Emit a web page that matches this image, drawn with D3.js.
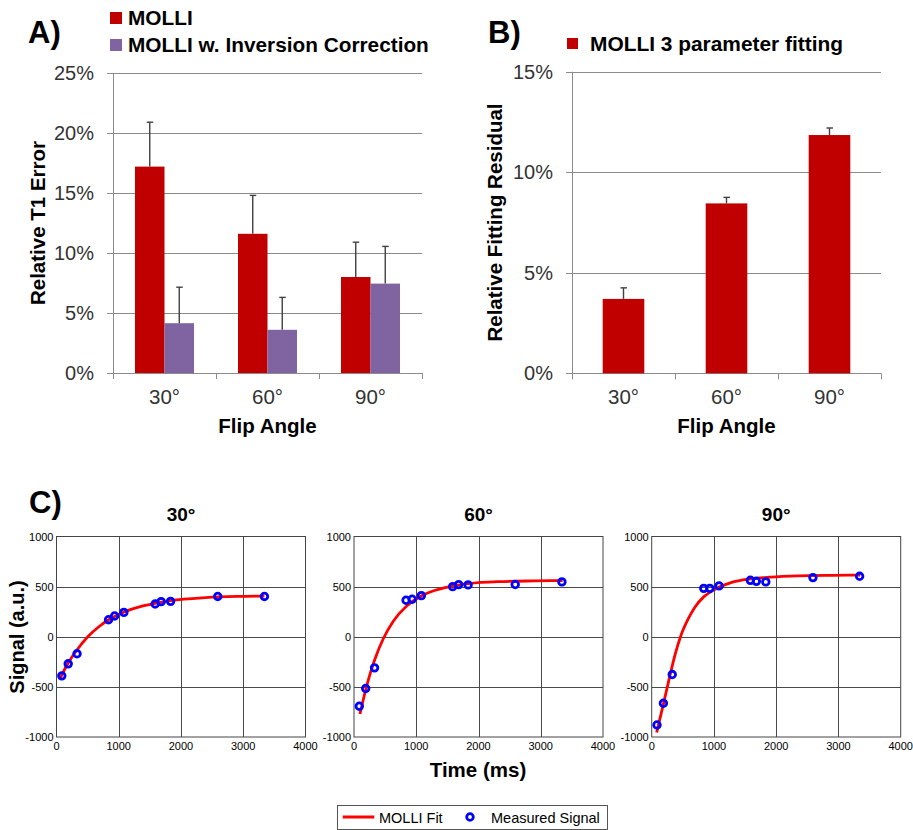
<!DOCTYPE html>
<meta charset="utf-8">
<script src="https://d3js.org/d3.v7.min.js"></script>
<style>
    body { margin: 0; background: white; }
    text { font-family: "Liberation Sans", Arial, sans-serif; }
    .grid { stroke: #8c8c8c; stroke-width: 1; }
    .mgrid { stroke: #4a4a4a; stroke-width: 1; }
</style>
<body>
<div id="graphDiv"></div>
<script>
    // panel A / B data (percent)
    var angles = ["30°", "60°", "90°"];
    var seriesA = ["MOLLI", "MOLLI w. Inversion Correction"];
    var molliT1Err = [17.2, 11.6, 8.0];
    var molliT1Sd = [3.7, 3.2, 2.9];
    var corrT1Err = [4.15, 3.6, 7.45];
    var corrT1Sd = [3.0, 2.7, 3.1];
    var fitResidual = [3.7, 8.45, 11.85];
    var fitResidualSd = [0.55, 0.3, 0.35];
    var ticksA = [0, 5, 10, 15, 20, 25];
    var ticksB = [0, 5, 10, 15];

    // panel C data: measured signal and fitted curve
    var times = [85, 188, 330, 836, 934, 1082, 1585, 1681, 1833, 2590, 3340];
    var signal30 = [-390, -270, -170, 170, 207, 243, 327, 350, 353, 402, 402];
    var signal60 = [-693, -516, -310, 364, 374, 410, 500, 520, 517, 521, 547];
    var signal90 = [-880, -663, -377, 483, 483, 507, 563, 553, 547, 590, 603];

    var fit30T = [60, 180, 325, 510, 670, 825, 1078, 1374, 1578, 1835, 2395, 2900, 3340];
    var fit30S = [-412, -270, -135, 5, 95, 165, 245, 305, 332, 360, 390, 402, 406];
    var fit60T = [96, 193, 268, 337, 470, 631, 846, 1087, 1327, 1594, 1841, 2343, 2900, 3350];
    var fit60S = [-770, -516, -350, -222, -20, 155, 307, 410, 468, 508, 530, 550, 557, 560];
    var fit90T = [80, 192, 288, 370, 474, 588, 688, 840, 992, 1274, 1584, 1900, 2341, 2900, 3350];
    var fit90S = [-955, -660, -400, -190, 20, 180, 290, 400, 465, 540, 577, 595, 608, 613, 615];

    var timeTicks = [0, 1000, 2000, 3000, 4000];
    var signalTicks = [-1000, -500, 0, 500, 1000];

    var width = 913, height = 830;
    var red = "#c00000", purple = "#8064a2";

    var svg = d3.select("#graphDiv").append("svg")
        .attr("width", width)
        .attr("height", height)
        .style("display", "block");

    function panelLetter(txt, x, y) {
        svg.append("text").attr("x", x).attr("y", y)
            .attr("font-size", 31).attr("font-weight", "bold")
            .attr("fill", "#000").text(txt);
    }

    function barAxes(x, y, ticks, yLabel, labelX) {
        var x0 = x.range()[0], x1 = x.range()[1];
        var g = svg.append("g");
        g.selectAll(".grid").data(ticks).join("line")
            .attr("class", "grid")
            .attr("x1", x0 - 6).attr("x2", x1)
            .attr("y1", d => Math.round(y(d)) + 0.5).attr("y2", d => Math.round(y(d)) + 0.5);
        g.append("line").attr("class", "grid")
            .attr("x1", x0 + 0.5).attr("x2", x0 + 0.5)
            .attr("y1", y.range()[1]).attr("y2", y.range()[0] + 6);
        // category boundary ticks
        var bounds = angles.map(a => x(a) + x.bandwidth());
        g.selectAll(".bt").data(bounds).join("line")
            .attr("class", "grid")
            .attr("x1", d => Math.round(d) + 0.5).attr("x2", d => Math.round(d) + 0.5)
            .attr("y1", y.range()[0]).attr("y2", y.range()[0] + 6);
        g.selectAll(".yl").data(ticks).join("text")
            .attr("x", x0 - 19).attr("y", d => y(d) + 7)
            .attr("text-anchor", "end").attr("font-size", 20)
            .attr("fill", "#333").text(d => d + "%");
        g.selectAll(".xl").data(angles).join("text")
            .attr("x", d => x(d) + x.bandwidth() / 2).attr("y", 404)
            .attr("text-anchor", "middle").attr("font-size", 20.5)
            .attr("fill", "#333").text(d => d);
        g.append("text")
            .attr("x", (x0 + x1) / 2).attr("y", 433)
            .attr("text-anchor", "middle").attr("font-size", 20.5)
            .attr("font-weight", "bold").text("Flip Angle");
        g.append("text")
            .attr("transform", "translate(" + labelX + "," + (y.range()[0] + y.range()[1]) / 2 + ") rotate(-90)")
            .attr("text-anchor", "middle").attr("font-size", 20.5)
            .attr("font-weight", "bold").text(yLabel);
    }

    function errorBars(g, xs, vals, sds, y) {
        vals.forEach(function (v, i) {
            var top = y(v + sds[i]);
            g.append("line").attr("x1", xs[i]).attr("x2", xs[i])
                .attr("y1", y(v)).attr("y2", top)
                .attr("stroke", "#404040").attr("stroke-width", 1.4);
            g.append("line").attr("x1", xs[i] - 3).attr("x2", xs[i] + 3.5)
                .attr("y1", top).attr("y2", top)
                .attr("stroke", "#404040").attr("stroke-width", 1.4);
        });
    }

    // ---------- Panel A ----------
    var xA = d3.scaleBand().domain(angles).range([113, 422]);
    var yA = d3.scaleLinear().domain([0, 25]).range([373, 73]);
    var groupW = xA.bandwidth() * 0.573;
    var xSub = d3.scaleBand().domain(seriesA).range([0, groupW]);

    barAxes(xA, yA, ticksA, "Relative T1 Error", 45);
    var gA = svg.append("g");
    [molliT1Err, corrT1Err].forEach(function (vals, s) {
        gA.selectAll(".b" + s).data(vals).join("rect")
            .attr("x", (d, i) => xA(angles[i]) + (xA.bandwidth() - groupW) / 2 + xSub(seriesA[s]))
            .attr("width", xSub.bandwidth())
            .attr("y", d => yA(d))
            .attr("height", d => yA(0) - yA(d))
            .attr("fill", s == 0 ? red : purple);
    });
    errorBars(gA, angles.map(a => xA(a) + (xA.bandwidth() - groupW) / 2 + xSub(seriesA[0]) + xSub.bandwidth() / 2),
        molliT1Err, molliT1Sd, yA);
    errorBars(gA, angles.map(a => xA(a) + (xA.bandwidth() - groupW) / 2 + xSub(seriesA[1]) + xSub.bandwidth() / 2),
        corrT1Err, corrT1Sd, yA);

    panelLetter("A)", 28, 43);
    seriesA.forEach(function (s, i) {
        svg.append("rect").attr("x", 110).attr("y", 12 + i * 27).attr("width", 12).attr("height", 12)
            .attr("fill", i == 0 ? red : purple);
        svg.append("text").attr("x", 128).attr("y", 25 + i * 26.5)
            .attr("font-size", 20.8).attr("font-weight", "bold").text(s);
    });

    // ---------- Panel B ----------
    var xB = d3.scaleBand().domain(angles).range([572, 881]);
    var yB = d3.scaleLinear().domain([0, 15]).range([373.3, 71.7]);
    var barW = xB.bandwidth() * 0.404;
    barAxes(xB, yB, ticksB, "Relative Fitting Residual", 502);
    var gB = svg.append("g");
    gB.selectAll("rect").data(fitResidual).join("rect")
        .attr("x", (d, i) => xB(angles[i]) + (xB.bandwidth() - barW) / 2)
        .attr("width", barW)
        .attr("y", d => yB(d))
        .attr("height", d => yB(0) - yB(d))
        .attr("fill", red);
    errorBars(gB, angles.map(a => xB(a) + xB.bandwidth() / 2), fitResidual, fitResidualSd, yB);

    panelLetter("B)", 488, 43);
    svg.append("rect").attr("x", 567).attr("y", 38).attr("width", 11).attr("height", 11).attr("fill", red);
    svg.append("text").attr("x", 590).attr("y", 51)
        .attr("font-size", 20.9).attr("font-weight", "bold").text("MOLLI 3 parameter fitting");

    // ---------- Panel C ----------
    panelLetter("C)", 29, 513);
    var subplots = [
        {title: "30°", x0: 56.5, signal: signal30, fitT: fit30T, fitS: fit30S},
        {title: "60°", x0: 354, signal: signal60, fitT: fit60T, fitS: fit60S},
        {title: "90°", x0: 651.7, signal: signal90, fitT: fit90T, fitS: fit90S}
    ];

    subplots.forEach(function (p) {
        var x = d3.scaleLinear().domain([0, 4000]).range([p.x0, p.x0 + 249]);
        var y = d3.scaleLinear().domain([-1000, 1000]).range([737, 536.5]);
        var g = svg.append("g");

        g.selectAll(".vg").data(timeTicks.slice(1, -1)).join("line")
            .attr("class", "mgrid")
            .attr("x1", d => Math.round(x(d)) + 0.5).attr("x2", d => Math.round(x(d)) + 0.5)
            .attr("y1", y(1000)).attr("y2", y(-1000));
        g.selectAll(".hg").data(signalTicks.slice(1, -1)).join("line")
            .attr("class", "mgrid")
            .attr("x1", x(0)).attr("x2", x(4000))
            .attr("y1", d => Math.round(y(d)) + 0.5).attr("y2", d => Math.round(y(d)) + 0.5);
        g.append("rect")
            .attr("x", x(0)).attr("y", y(1000))
            .attr("width", x(4000) - x(0)).attr("height", y(-1000) - y(1000))
            .attr("fill", "none").attr("stroke", "#444").attr("stroke-width", 1);

        g.selectAll(".yl").data(signalTicks).join("text")
            .attr("x", x(0) - 3).attr("y", d => y(d) + 4)
            .attr("text-anchor", "end").attr("font-size", 11).text(d => d);
        g.selectAll(".xl").data(timeTicks).join("text")
            .attr("x", d => x(d)).attr("y", 750)
            .attr("text-anchor", "middle").attr("font-size", 11).text(d => d);

        g.append("text").attr("x", (x(0) + x(4000)) / 2).attr("y", 521)
            .attr("text-anchor", "middle").attr("font-size", 19)
            .attr("font-weight", "bold").text(p.title);

        var line = d3.line().curve(d3.curveMonotoneX)
            .x((d, i) => x(p.fitT[i])).y(d => y(d));
        g.append("path").datum(p.fitS)
            .attr("d", line)
            .attr("fill", "none").attr("stroke", "#ff0000").attr("stroke-width", 2.8);

        g.selectAll("circle").data(p.signal).join("circle")
            .attr("cx", (d, i) => x(times[i])).attr("cy", d => y(d))
            .attr("r", 3.3)
            .attr("fill", "none").attr("stroke", "#0000ff").attr("stroke-width", 2.8);
    });

    svg.append("text")
        .attr("transform", "translate(24,637) rotate(-90)")
        .attr("text-anchor", "middle").attr("font-size", 20)
        .attr("font-weight", "bold").text("Signal (a.u.)");
    svg.append("text")
        .attr("x", 478).attr("y", 776.5)
        .attr("text-anchor", "middle").attr("font-size", 20.5)
        .attr("font-weight", "bold").text("Time (ms)");

    // bottom legend
    var leg = svg.append("g");
    leg.append("rect").attr("x", 337.5).attr("y", 805.5).attr("width", 270).attr("height", 24)
        .attr("fill", "white").attr("stroke", "#555");
    leg.append("line").attr("x1", 342.7).attr("x2", 374.3).attr("y1", 817).attr("y2", 817)
        .attr("stroke", "#ff0000").attr("stroke-width", 2.8);
    leg.append("text").attr("x", 379).attr("y", 823).attr("font-size", 14.5).text("MOLLI Fit");
    leg.append("circle").attr("cx", 470).attr("cy", 817).attr("r", 3.3)
        .attr("fill", "none").attr("stroke", "#0000ff").attr("stroke-width", 2.8);
    leg.append("text").attr("x", 491).attr("y", 823).attr("font-size", 14.5).text("Measured Signal");
</script>
</body>
